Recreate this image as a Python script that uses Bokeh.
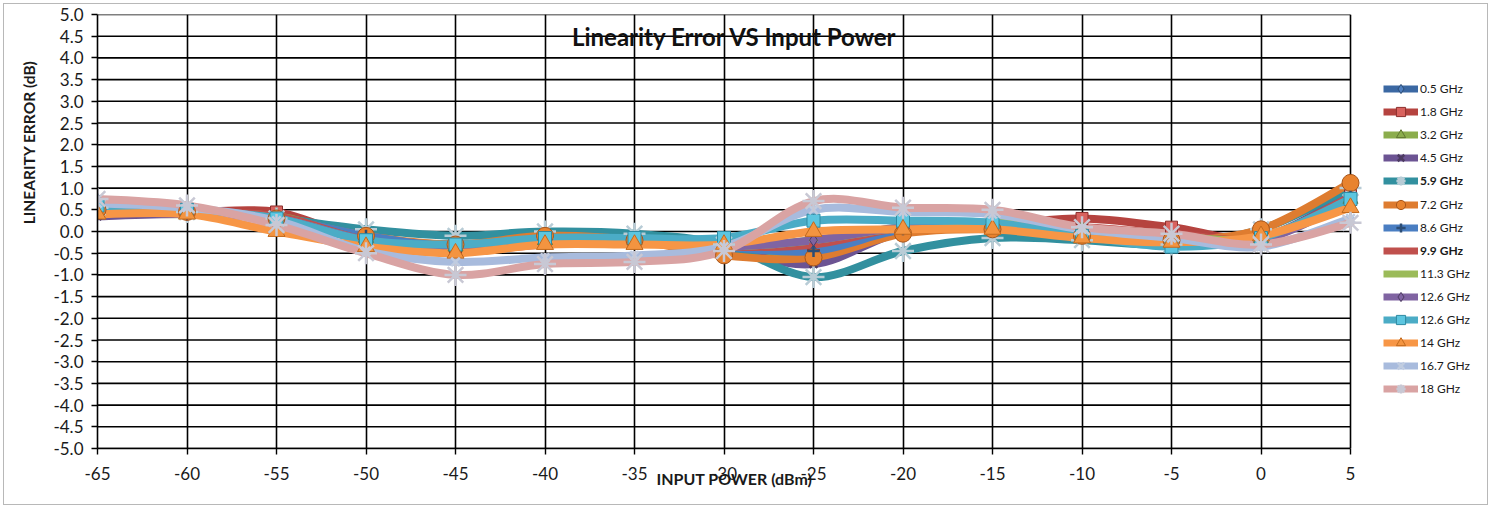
from bokeh.plotting import figure
from bokeh.models import (FixedTicker, PrintfTickFormatter, Legend, LegendItem,
                          Label, Range1d, ColumnDataSource, Title)
from bokeh.embed import file_html
from bokeh.resources import INLINE

# ---------------- data ----------------
input_power = [-65, -60, -55, -50, -45, -40, -35, -30, -25, -20, -15, -10, -5, 0, 5]

series_names = ["0.5 GHz", "1.8 GHz", "3.2 GHz", "4.5 GHz", "5.9 GHz", "7.2 GHz", "8.6 GHz",
                "9.9 GHz", "11.3 GHz", "12.6 GHz", "12.6 GHz", "14 GHz", "16.7 GHz", "18 GHz"]

err_0_5 = [0.75, 0.45, 0.35, -0.15, -0.35, -0.20, -0.20, -0.35, -0.45, 0.00, 0.10, 0.05, -0.10, -0.20, 0.80]
err_1_8 = [0.55, 0.45, 0.45, -0.20, -0.40, -0.25, -0.25, -0.40, -0.55, 0.00, 0.15, 0.30, 0.10, -0.15, 0.85]
err_3_2 = [0.40, 0.40, 0.35, -0.15, -0.35, -0.20, -0.20, -0.35, -0.60, 0.05, 0.10, 0.05, -0.15, -0.15, 0.75]
err_4_5 = [0.35, 0.40, 0.30, -0.15, -0.30, -0.15, -0.20, -0.40, -0.75, 0.00, 0.10, 0.00, -0.15, -0.15, 0.85]
err_5_9 = [0.55, 0.45, 0.30, 0.05, -0.10, 0.00, -0.05, -0.30, -1.05, -0.45, -0.15, -0.20, -0.30, 0.05, 1.00]
err_7_2 = [0.50, 0.45, 0.30, -0.10, -0.30, -0.10, -0.20, -0.55, -0.60, -0.05, 0.05, -0.10, -0.20, 0.05, 1.12]
err_8_6 = [0.60, 0.45, 0.30, -0.10, -0.35, -0.20, -0.20, -0.35, -0.45, 0.05, 0.15, 0.00, -0.15, -0.20, 0.80]
err_9_9 = [0.50, 0.45, 0.35, -0.20, -0.45, -0.30, -0.25, -0.35, -0.30, 0.10, 0.15, 0.10, -0.05, -0.15, 0.80]
err_11_3 = [0.45, 0.45, 0.30, -0.20, -0.40, -0.25, -0.25, -0.35, -0.20, 0.10, 0.20, 0.05, -0.10, -0.15, 0.65]
err_12_6a = [0.45, 0.40, 0.30, -0.20, -0.40, -0.25, -0.25, -0.35, -0.20, 0.10, 0.15, 0.00, -0.15, -0.20, 0.70]
err_12_6b = [0.60, 0.50, 0.30, -0.20, -0.30, -0.15, -0.15, -0.15, 0.25, 0.25, 0.20, -0.10, -0.35, -0.15, 0.75]
err_14 = [0.40, 0.40, 0.00, -0.35, -0.50, -0.30, -0.30, -0.30, 0.00, 0.05, 0.05, -0.15, -0.25, -0.10, 0.55]
err_16_7 = [0.65, 0.55, 0.25, -0.45, -0.70, -0.60, -0.55, -0.35, 0.50, 0.45, 0.40, 0.05, -0.15, -0.35, 0.30]
err_18 = [0.75, 0.60, 0.15, -0.50, -1.00, -0.75, -0.70, -0.45, 0.70, 0.55, 0.50, 0.10, -0.05, -0.30, 0.20]

all_errors = [err_0_5, err_1_8, err_3_2, err_4_5, err_5_9, err_7_2, err_8_6, err_9_9,
              err_11_3, err_12_6a, err_12_6b, err_14, err_16_7, err_18]

x_ticks = [-65, -60, -55, -50, -45, -40, -35, -30, -25, -20, -15, -10, -5, 0, 5]
y_ticks = [-5.0, -4.5, -4.0, -3.5, -3.0, -2.5, -2.0, -1.5, -1.0, -0.5, 0.0,
           0.5, 1.0, 1.5, 2.0, 2.5, 3.0, 3.5, 4.0, 4.5, 5.0]

# ---------------- styles ----------------
line_colors = ["#3B68A3", "#B5433F", "#8BAD4C", "#6C5493", "#32909F", "#DE7C30", "#4A7EC2",
               "#C0504D", "#9BBB59", "#8064A2", "#4BACC6", "#F79646", "#A8BBDD", "#D9A3A3"]
marker_types = ["diamond", "square", "triangle", "x", "asterisk", "circle", "cross",
                "dash", "dash", "diamond", "square", "triangle", "x", "asterisk"]
marker_fill = ["#4F7FC0", "#D9625E", "#8BAD4C", "#6C5493", "#BFD3DC", "#E8832F", "#4A7EC2",
               "#C0504D", "#E6F0D0", "#8064A2", "#5CC6E0", "#F39440", "#C8D4EA", "#D0D0D8"]
marker_line = ["#2C4D75", "#8C302D", "#5F7530", "#4D3B62", "#B8CCD6", "#A8561C", "#2C4D75",
               "#C0504D", "#9BBB59", "#4D3B62", "#2E8AA3", "#C26A1E", "#C0CCE0", "#C8C8D4"]
marker_sizes = [12, 12, 15, 11, 22, 17, 12, 9, 9, 12, 13, 17, 12, 22]
bold_items = [4, 7]

FONT = "Lato"
X_MIN, X_MAX = -65, 5
W, H = 1485, 502
LEFT, TOP, BOTTOM = 93, 10, 58
FRAME_W_DATA = 1253          # pixels between x=-65 and x=5
FRAME_W = 1387               # frame widened to hold the legend at the right
X_END = X_MIN + (X_MAX - X_MIN) * FRAME_W / FRAME_W_DATA
FRAME_H = H - TOP - BOTTOM

p = figure(width=W, height=H, output_backend="svg", toolbar_location=None,
           x_range=Range1d(X_MIN, X_END), y_range=Range1d(-5, 5),
           min_border_left=LEFT, min_border_right=W - LEFT - FRAME_W,
           min_border_top=TOP, min_border_bottom=BOTTOM)
p.background_fill_color = "white"
p.border_fill_color = "white"
p.outline_line_color = None
p.styles = {"border": "1px solid #b8b8b8", "margin": "3px"}

# grid: vertical via Grid, horizontal limited to the data x-extent
p.xgrid.ticker = FixedTicker(ticks=x_ticks)
p.xgrid.grid_line_color = "black"
p.xgrid.grid_line_width = 1.6
p.ygrid.visible = False
hgrid = p.segment(x0=[X_MIN] * len(y_ticks), y0=y_ticks, x1=[X_MAX] * len(y_ticks), y1=y_ticks,
                  line_color="black", line_width=1.6)
hgrid.level = "underlay"

# axes
p.xaxis.ticker = FixedTicker(ticks=x_ticks)
p.xaxis.formatter = PrintfTickFormatter(format="%d")
p.xaxis.bounds = (X_MIN, X_MAX)
p.yaxis.ticker = FixedTicker(ticks=y_ticks)
p.yaxis.formatter = PrintfTickFormatter(format="%.1f")
for ax in (p.xaxis, p.yaxis):
    ax.axis_line_color = "black"
    ax.axis_line_width = 1.6
    ax.major_tick_line_color = "black"
    ax.major_tick_line_width = 1.4
    ax.major_tick_out = 6
    ax.major_tick_in = 0
    ax.minor_tick_line_color = None
    ax.major_label_text_font = FONT
    ax.major_label_text_font_size = "17px"
    ax.major_label_text_color = "#1a1a1a"
p.xaxis.major_label_standoff = 12
p.yaxis.major_label_standoff = 8

# axis titles placed like the original (off-centre)
p.add_layout(Title(text="INPUT POWER (dBm)", align="left", offset=559, vertical_align="top",
                   standoff=-28, text_font=FONT, text_font_style="bold", text_font_size="16px",
                   text_color="#1a1a1a"), "below")
p.add_layout(Title(text="LINEARITY ERROR (dB)", align="right", offset=46, vertical_align="bottom",
                   standoff=25, text_font=FONT, text_font_style="bold", text_font_size="15.5px",
                   text_color="#1a1a1a"), "left")


def smooth_segments(xs, ys):
    """Excel-style smoothed line: cubic Bezier control points (Catmull-Rom)."""
    n = len(xs)
    d = dict(x0=[], y0=[], x1=[], y1=[], cx0=[], cy0=[], cx1=[], cy1=[])
    for i in range(n - 1):
        i0 = max(i - 1, 0)
        i3 = min(i + 2, n - 1)
        d["x0"].append(xs[i]); d["y0"].append(ys[i])
        d["x1"].append(xs[i + 1]); d["y1"].append(ys[i + 1])
        d["cx0"].append(xs[i] + (xs[i + 1] - xs[i0]) / 6.0)
        d["cy0"].append(ys[i] + (ys[i + 1] - ys[i0]) / 6.0)
        d["cx1"].append(xs[i + 1] - (xs[i3] - xs[i]) / 6.0)
        d["cy1"].append(ys[i + 1] - (ys[i3] - ys[i]) / 6.0)
    return ColumnDataSource(d)


for k, errs in enumerate(all_errors):
    src = smooth_segments(input_power, errs)
    p.bezier(x0="x0", y0="y0", x1="x1", y1="y1", cx0="cx0", cy0="cy0", cx1="cx1", cy1="cy1",
             source=src, line_color=line_colors[k], line_width=8, line_cap="round")

marker_renderers = []
for k, errs in enumerate(all_errors):
    lw = 2.5 if marker_types[k] in ("asterisk", "x", "cross", "dash") else 1
    m = p.scatter(input_power, errs, marker=marker_types[k], size=marker_sizes[k],
                  fill_color=marker_fill[k], line_color=marker_line[k], line_width=lw)
    marker_renderers.append(m)

# legend swatch lines (no data drawn)
legend_lines = []
for k in range(len(all_errors)):
    legend_lines.append(p.line(x=[float("nan")], y=[float("nan")],
                               line_color=line_colors[k], line_width=7))

# title inside the plot area
p.add_layout(Label(x=-29.4, y=4.5, text="Linearity Error VS Input Power",
                   text_font=FONT, text_font_style="bold", text_font_size="24px",
                   text_color="#111111", text_align="center", text_baseline="middle"))

# legend (split in groups so that two entries can be bold)
groups = [[0, 1, 2, 3], [4], [5, 6], [7], [8, 9, 10, 11, 12, 13]]
item_h = 23.2
for grp in groups:
    items = [LegendItem(label=series_names[i], renderers=[legend_lines[i], marker_renderers[i]])
             for i in grp]
    top = 74 + item_h * grp[0] - 11.5
    bottom_from_frame = FRAME_H - (top + len(grp) * 23)
    lg = Legend(items=items, location=(1286, bottom_from_frame),
                orientation="vertical", spacing=0, padding=0, margin=0,
                glyph_width=35, glyph_height=23, label_height=23, label_standoff=2,
                label_text_font=FONT, label_text_font_size="12px", label_text_color="#1a1a1a",
                label_text_font_style="bold" if grp[0] in bold_items else "normal",
                border_line_color=None, background_fill_alpha=0)
    p.add_layout(lg, "center")

open("out.html", "w").write(file_html(p, INLINE))
